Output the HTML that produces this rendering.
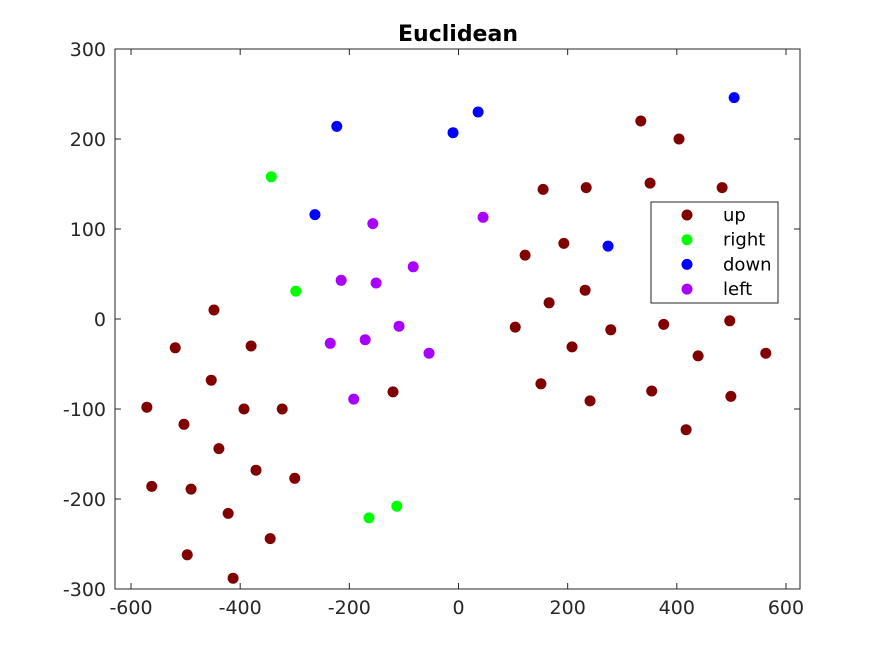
<!DOCTYPE html>
<html><head><meta charset="utf-8"><style>
body{margin:0;background:#fff;}
svg{display:block;font-family:"DejaVu Sans","Liberation Sans",sans-serif;}
</style></head><body>
<svg id="chart" width="884" height="663">
<rect x="0" y="0" width="884" height="663" fill="#fff"/>
<text x="458" y="41" text-anchor="middle" font-size="22" font-weight="bold" fill="#000">Euclidean</text>
<rect x="115" y="49" width="685" height="540" fill="#fff" stroke="#262626" stroke-width="1"/>
<g id="axes"></g>
<g id="marks"></g>
<g>
<rect x="651" y="202" width="127" height="101" fill="#fff" stroke="#262626" stroke-width="1"/>
<g id="legend"></g>
</g>
</svg>
<script>
const seriesNames=["up","right","down","left"];
const seriesColors=["#800000","#00ff00","#0000ff","#aa00ff"];
const upX=[-571,-562,-519,-503,-490,-497,-453,-448,-439,-422,-413,-393,-380,-371,-345,-323,-300,-120,104,122,151,155,166,193,208,234,232,241,279,334,351,354,376,404,417,439,483,497,499,563];
const upY=[-98,-186,-32,-117,-189,-262,-68,10,-144,-216,-288,-100,-30,-168,-244,-100,-177,-81,-9,71,-72,144,18,84,-31,146,32,-91,-12,220,151,-80,-6,200,-123,-41,146,-2,-86,-38];
const rightX=[-343,-298,-164,-113];
const rightY=[158,31,-221,-208];
const downX=[-223,-263,-10,36,274,505];
const downY=[214,116,207,230,81,246];
const leftX=[-157,-83,-215,-151,45,-235,-171,-109,-54,-192];
const leftY=[106,58,43,40,113,-27,-23,-8,-38,-89];
const xTicks=[-600,-400,-200,0,200,400,600];
const yTicks=[300,200,100,0,-100,-200,-300];
const NS="http://www.w3.org/2000/svg";
function sx(v){return 458.5+v*0.5458;}
function sy(v){return 319-v*0.9;}
function mk(t,a){const e=document.createElementNS(NS,t);for(const k in a)e.setAttribute(k,a[k]);return e;}
const axes=document.getElementById('axes');
xTicks.forEach(t=>{
 const x=sx(t);
 axes.appendChild(mk('line',{x1:x,x2:x,y1:589,y2:583,stroke:'#262626'}));
 axes.appendChild(mk('line',{x1:x,x2:x,y1:49,y2:55,stroke:'#262626'}));
 const tx=mk('text',{x:x,y:614,'text-anchor':'middle','font-size':'19',fill:'#262626'});
 tx.textContent=t;
 
 
 axes.appendChild(tx);
});
yTicks.forEach(t=>{
 const y=sy(t);
 axes.appendChild(mk('line',{x1:115,x2:121,y1:y,y2:y,stroke:'#262626'}));
 axes.appendChild(mk('line',{x1:800,x2:794,y1:y,y2:y,stroke:'#262626'}));
 const tx=mk('text',{x:106,y:y+7,'text-anchor':'end','font-size':'19',fill:'#262626'});
 tx.textContent=t;
 
 
 axes.appendChild(tx);
});
const data=[[upX,upY],[rightX,rightY],[downX,downY],[leftX,leftY]];
const marks=document.getElementById('marks');
data.forEach((d,i)=>{
 d[0].forEach((xv,j)=>{
  const c=mk('circle',{cx:sx(xv),cy:sy(d[1][j]),r:5.5,fill:seriesColors[i]});
  
  
  marks.appendChild(c);
 });
});
const lg=document.getElementById('legend');
seriesNames.forEach((n,i)=>{
 const y=215+i*24.7;
 const c=mk('circle',{cx:687,cy:y,r:5.5,fill:seriesColors[i]});
 
 
 lg.appendChild(c);
 const t=mk('text',{x:723,y:y+6,'font-size':'18',fill:'#000'});
 t.textContent=n;
 
 
 lg.appendChild(t);
});
</script>
</body></html>
